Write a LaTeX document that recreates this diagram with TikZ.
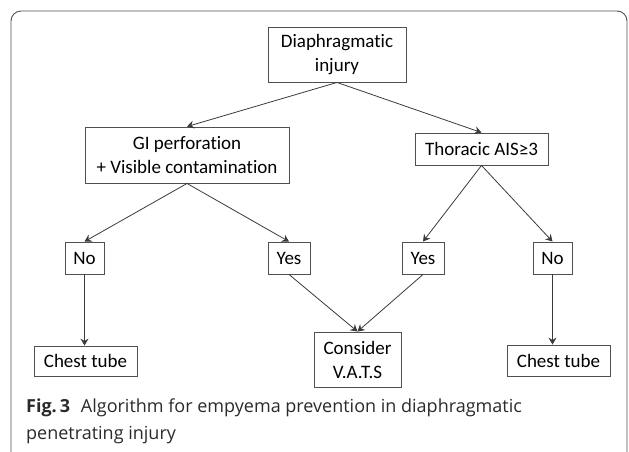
\documentclass[tikz,border=0pt]{standalone}
\usepackage{fontspec}
\setmainfont{Carlito}[Ligatures={NoCommon}]
\newfontfamily\capfont{Open Sans}
\usetikzlibrary{arrows.meta}
\definecolor{framegray}{HTML}{505050}
\definecolor{boxgray}{HTML}{505050}
\definecolor{linegray}{HTML}{3A3A3A}
\definecolor{capgray}{HTML}{2A2A2A}
\begin{document}
\begin{tikzpicture}[x=1pt,y=-1pt,
  box/.style={draw=boxgray, line width=0.9pt, inner sep=0pt, align=center,
    font=\fontsize{19}{24}\selectfont, text=black},
  conn/.style={draw=linegray, line width=0.8pt, -{Stealth[length=7pt,width=8pt,inset=2.5pt]}}]
\useasboundingbox (0,0) rectangle (629,451);
\draw[rounded corners=10pt, draw=framegray, line width=0.9pt] (11,11) rectangle (627,490);

\node[box, minimum width=138pt, minimum height=55pt] (top) at (337,54.5) {Diaphragmatic\\injury};
\node[box, minimum width=204pt, minimum height=56pt] (gi) at (187,155) {GI perforation\\+ Visible contamination};
\node[box, minimum width=133pt, minimum height=32pt] (tho) at (481.5,149) {Thoracic AIS≥3};
\node[box, minimum width=39pt, minimum height=32pt] (no1) at (84.5,258) {No};
\node[box, minimum width=42pt, minimum height=32pt] (yes1) at (289,258) {Yes};
\node[box, minimum width=42pt, minimum height=32pt] (yes2) at (423,258) {Yes};
\node[box, minimum width=39pt, minimum height=32pt] (no2) at (552.5,258) {No};
\node[box, minimum width=103pt, minimum height=30pt] (ct1) at (85.5,361) {Chest tube};
\node[box, minimum width=87pt, minimum height=55pt] (cons) at (357.5,359.5) {Consider\\V.A.T.S};
\node[box, minimum width=103pt, minimum height=31pt] (ct2) at (558.5,360.5) {Chest tube};

\draw[conn] (top.south) -- (gi.north);
\draw[conn] (top.south) -- (tho.north);
\draw[conn] (gi.south) -- (no1.north);
\draw[conn] (gi.south) -- (yes1.north);
\draw[conn] (tho.south) -- (yes2.north);
\draw[conn] (tho.south) -- (no2.north);
\draw[conn] (no1.south) -- (no1.south |- ct1.north);
\draw[conn] (no2.south) -- (no2.south |- ct2.north);
\draw[conn] (yes1.south) -- (cons.north);
\draw[conn] (yes2.south) -- (cons.north);

\node[anchor=west, inner sep=0pt, align=left, text=capgray,
  font=\capfont\fontsize{18}{27}\selectfont] (cap) at (26,421.5)
  {\textbf{Fig.\,3}\hspace{0.6em}Algorithm for empyema prevention in diaphragmatic\\penetrating injury};
\end{tikzpicture}
\end{document}
